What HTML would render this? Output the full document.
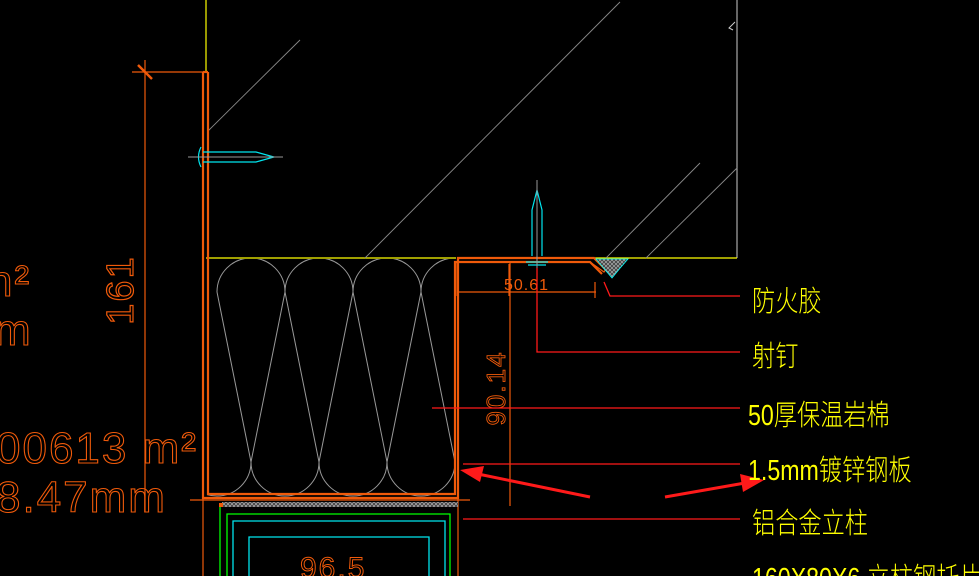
<!DOCTYPE html>
<html><head><meta charset="utf-8"><style>
html,body{margin:0;padding:0;background:#000;width:979px;height:576px;overflow:hidden}
svg{display:block}
text{font-family:"Liberation Sans","Noto Sans CJK SC",sans-serif}
</style></head><body>
<svg width="979" height="576" viewBox="0 0 979 576" xmlns="http://www.w3.org/2000/svg">
<defs>
<clipPath id="ins"><rect x="207" y="259" width="249" height="238"/></clipPath>
<pattern id="hat" width="4" height="4" patternUnits="userSpaceOnUse"><rect width="4" height="4" fill="#333"/><path d="M0 0L4 4M4 0L0 4" stroke="#999" stroke-width="1"/></pattern>
</defs>
<line x1="206" y1="0" x2="206" y2="72" stroke="#ffff00" stroke-width="1.2"/>
<line x1="737" y1="0" x2="737" y2="258" stroke="#ccc" stroke-width="1"/>
<line x1="206" y1="258" x2="456" y2="258" stroke="#ffff00" stroke-width="1.2"/>
<line x1="595" y1="258" x2="737" y2="258" stroke="#ffff00" stroke-width="1.2"/>
<g stroke="#888" stroke-width="0.9">
<line x1="208" y1="131" x2="300" y2="40"/>
<line x1="365" y1="258" x2="620" y2="2"/>
<line x1="646" y1="258" x2="737" y2="168"/>
<line x1="606" y1="258" x2="700" y2="163"/>
</g>
<path d="M735 22 L729 28 L733 30" fill="none" stroke="#ccc"/>
<g clip-path="url(#ins)" stroke="#999" stroke-width="1" fill="none">
<path d="M217 292 A34 34 0 0 1 285 292 A34 34 0 0 1 353 292 A34 34 0 0 1 421 292 A34 34 0 0 1 489 292"/>
<path d="M183 462 A34 34 0 0 0 251 462 A34 34 0 0 0 319 462 A34 34 0 0 0 387 462 A34 34 0 0 0 455 462 A34 34 0 0 0 523 462"/>
<path d="M217 292L251 462M285 292L251 462M285 292L319 462M353 292L319 462M353 292L387 462M421 292L387 462M421 292L455 462M489 292L455 462"/>
</g>
<g stroke="#f05a0a" stroke-width="2.2" fill="none">
<path d="M203 72 L203 498 L458 498 L458 258 L594 258 L608 272"/>
<path d="M208 72 L208 494 L455 494 L455 262 L590 262 L602 274"/>
<line x1="203" y1="72" x2="208" y2="72"/>
</g>
<path d="M590 262 L604 272 L610 262" stroke="#f05a0a" fill="none" stroke-width="1.2"/>
<path d="M596 259 L628 259 Q620 268 612 278 Z" fill="url(#hat)" stroke="#0ff" stroke-width="0.8"/>
<g stroke="#f05a0a" stroke-width="1.2">
<line x1="132" y1="72" x2="203" y2="72"/>
<line x1="145" y1="60" x2="145" y2="512"/>
<line x1="138" y1="65" x2="152" y2="79" stroke-width="2.5"/>
<line x1="190" y1="500" x2="470" y2="500"/>
<line x1="203" y1="498" x2="203" y2="576"/>
<line x1="458" y1="498" x2="458" y2="576"/>
<line x1="510" y1="262" x2="510" y2="506"/>
<line x1="458" y1="292" x2="596" y2="292"/>
<line x1="457" y1="262" x2="457" y2="296"/>
<line x1="509" y1="264" x2="509" y2="296"/>
<line x1="595" y1="282" x2="595" y2="298"/>
</g>
<text transform="translate(133 290) rotate(-90)" fill="none" stroke="#f05a0a" stroke-width="1.2" font-size="38" text-anchor="middle" letter-spacing="2">161</text>
<text transform="translate(505 388) rotate(-90)" fill="none" stroke="#f05a0a" stroke-width="0.9" font-size="26" text-anchor="middle" letter-spacing="2">90.14</text>
<text x="504" y="290" fill="#f05a0a" font-size="16" letter-spacing="1">50.61</text>
<g fill="none" stroke="#f05a0a" stroke-width="1.1" font-size="44" letter-spacing="2">
<text x="-12" y="296">n²</text>
<text x="-6" y="345">m</text>
<text x="-4" y="463">00613 m²</text>
<text x="-4" y="512">8.47mm</text>
</g>
<g stroke="#00e5ee" stroke-width="1.2" fill="none">
<path d="M203 152 L256 152 L274 157 L256 162 L203 162"/>
<path d="M201 147 Q196 157 201 167"/>
<path d="M532 256 L532 210 L537 190 L542 210 L542 256"/>
<path d="M526 262 L548 262 M528 265 L546 265"/>
</g>
<line x1="188" y1="157" x2="283" y2="157" stroke="#999"/>
<line x1="537" y1="180" x2="537" y2="270" stroke="#999"/>
<g stroke="#ff1a1a" stroke-width="1.3" fill="none">
<path d="M604 282 L610 296 L740 296"/>
<path d="M537 268 L537 352 L740 352"/>
<line x1="432" y1="408" x2="740" y2="408"/>
<line x1="463" y1="464" x2="740" y2="464"/>
<line x1="463" y1="519" x2="740" y2="519"/>
<line x1="590" y1="497" x2="478" y2="474" stroke-width="3"/>
<line x1="665" y1="497" x2="745" y2="483" stroke-width="3"/>
</g>
<polygon points="460,470 484,466 480,482" fill="#ff1a1a"/>
<polygon points="764,480 740,474 743,492" fill="#ff1a1a"/>
<g fill="#ffff00" font-size="29" font-weight="300">
<text transform="translate(752 311) scale(0.8 1)">防火胶</text>
<text transform="translate(752 366) scale(0.8 1)">射钉</text>
<text transform="translate(748 425) scale(0.8 1)">50厚保温岩棉</text>
<text transform="translate(748 480) scale(0.8 1)">1.5mm镀锌钢板</text>
<text transform="translate(752 533) scale(0.8 1)">铝合金立柱</text>
<text transform="translate(752 588) scale(0.8 1)">160X80X6 立柱钢托片</text>
</g>
<rect x="222" y="502" width="236" height="5" fill="url(#hat)"/>
<rect x="219" y="503" width="4" height="4" fill="#f05a0a"/>
<g fill="none" stroke-width="1.3">
<path d="M220 507 L220 576" stroke="#00ff00"/>
<path d="M227 576 L227 514 L450 514 L450 576" stroke="#00ff00"/>
<path d="M233 576 L233 521 L445 521 L445 576" stroke="#00e5ee"/>
<path d="M249 576 L249 537 L429 537 L429 576" stroke="#00e5ee"/>
</g>
<text x="300" y="578" fill="none" stroke="#f05a0a" stroke-width="1" font-size="30" letter-spacing="2">96.5</text>
</svg>
</body></html>
